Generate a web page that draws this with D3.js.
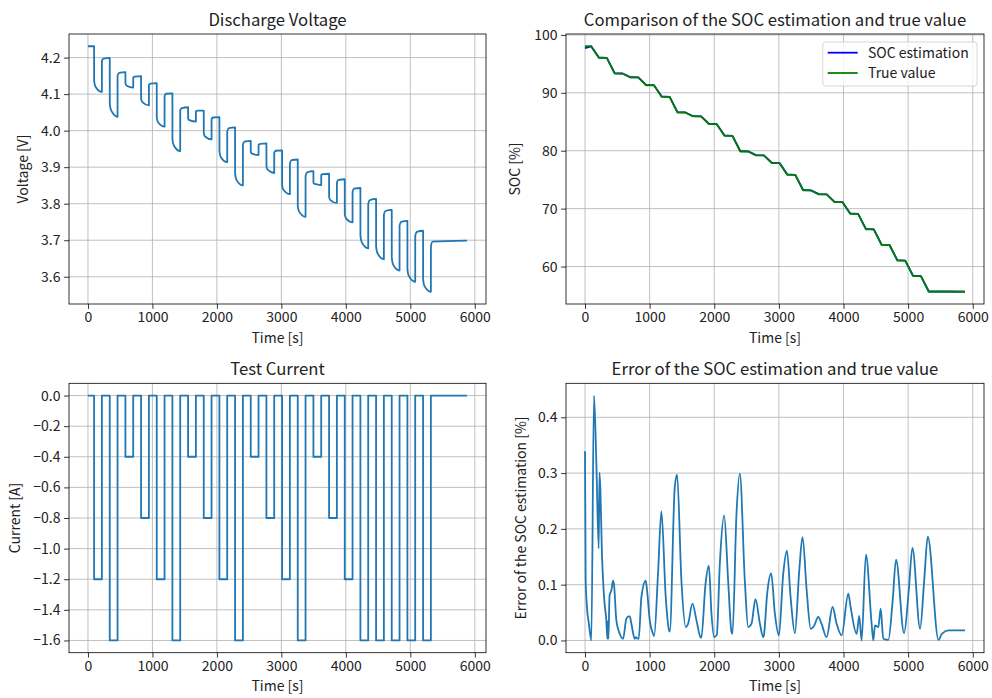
<!DOCTYPE html>
<html>
<head>
<meta charset="utf-8">
<script src="https://cdn.jsdelivr.net/npm/d3@7"></script>
<style>
  body { margin: 0; background: #fff; }
  svg text { font-family: "Noto Sans CJK JP", "Noto Sans", sans-serif; fill: #222; }
</style>
</head>
<body>
<script>
/* Test profile: pulse start / stop times [s] and pulse current [A] */
var tStart = [95, 338, 581, 824, 1067, 1310, 1553, 1796, 2039, 2282, 2525, 2768, 3011, 3254, 3497, 3740, 3983, 4226, 4469, 4712, 4955, 5198];
var tStop  = [216, 459, 702, 945, 1188, 1431, 1674, 1917, 2160, 2403, 2646, 2889, 3132, 3375, 3618, 3861, 4104, 4347, 4590, 4833, 5076, 5319];
var tLast = 5880;
var current = [-1.2, -1.6, -0.4, -0.8, -1.2, -1.6, -0.4, -0.8, -1.2, -1.6, -0.4, -0.8, -1.2, -1.6, -0.4, -0.8, -1.2, -1.6, -1.6, -1.6, -1.6, -1.6];

/* Terminal voltage read per pulse [V] */
var vRest    = [4.231, 4.199, 4.160, 4.149, 4.130, 4.102, 4.064, 4.055, 4.037, 4.009, 3.972, 3.965, 3.946, 3.921, 3.889, 3.882, 3.867, 3.843, 3.813, 3.783, 3.753, 3.726];
var vDrop    = [4.137, 4.074, 4.129, 4.087, 4.036, 3.977, 4.033, 3.993, 3.943, 3.883, 3.941, 3.902, 3.851, 3.794, 3.857, 3.818, 3.771, 3.713, 3.683, 3.652, 3.621, 3.592];
var vKnee    = [4.121, 4.056, 4.123, 4.078, 4.023, 3.960, 4.029, 3.984, 3.928, 3.866, 3.937, 3.893, 3.838, 3.779, 3.854, 3.810, 3.760, 3.695, 3.665, 3.634, 3.603, 3.575];
var vEnd     = [4.106, 4.038, 4.118, 4.069, 4.011, 3.944, 4.025, 3.976, 3.914, 3.850, 3.933, 3.884, 3.826, 3.764, 3.851, 3.802, 3.749, 3.678, 3.648, 3.617, 3.586, 3.559];
var vRise    = [4.191, 4.150, 4.146, 4.125, 4.095, 4.056, 4.053, 4.032, 3.998, 3.962, 3.961, 3.940, 3.910, 3.876, 3.879, 3.858, 3.833, 3.800, 3.770, 3.740, 3.712, 3.682];
var vRecover = [4.197, 4.158, 4.148, 4.129, 4.101, 4.062, 4.055, 4.036, 4.007, 3.970, 3.964, 3.945, 3.919, 3.886, 3.881, 3.865, 3.841, 3.810, 3.780, 3.750, 3.723, 3.696];
var vFinal = 3.699;

/* SOC [%]: true value and estimation at pulse start / stop */
var socFirst = 98.04;
var socAfter = [96.02, 93.33, 92.66, 91.31, 89.29, 86.60, 85.93, 84.58, 82.56, 79.87, 79.20, 77.85, 75.83, 73.14, 72.47, 71.12, 69.10, 66.41, 63.72, 61.03, 58.34, 55.65];
var estFirst = 97.70;
var estAtStart = [98.04, 96.03, 93.34, 92.66, 91.32, 89.30, 86.61, 85.93, 84.59, 82.57, 79.88, 79.20, 77.86, 75.84, 73.15, 72.47, 71.13, 69.11, 66.41, 63.72, 61.03, 58.34];
var estAtStop  = [96.10, 93.40, 92.69, 91.38, 89.37, 86.68, 85.96, 84.66, 82.64, 79.95, 79.25, 77.93, 75.91, 73.22, 72.50, 71.17, 69.16, 66.49, 63.77, 61.11, 58.42, 55.73];
var estLast = 55.67;

/* Error of the SOC estimation [%] */
var errTime = [0, 10, 30, 60, 98, 139, 176, 212, 224, 238, 260, 300, 330, 346, 356, 362, 380, 392, 408, 434, 449, 485, 537, 589, 640, 675, 692, 718, 769, 790, 805, 831,
  873, 940, 960, 1002, 1053, 1070, 1130, 1182, 1249, 1301, 1312, 1389, 1425, 1492, 1559, 1595, 1663, 1725, 1786, 1800, 1864, 1916, 1957, 1998, 2039, 2086, 2153, 2215, 2267, 2282,
  2344, 2396, 2473, 2525, 2576, 2638, 2707, 2757, 2768, 2819, 2881, 2938, 3000, 3067, 3124, 3181, 3248, 3315, 3366, 3430, 3492, 3540, 3609, 3660, 3738, 3831, 3893, 3971,
  4074, 4110, 4203, 4244, 4280, 4347, 4435, 4461, 4487, 4539, 4575, 4616, 4694, 4760, 4813, 4937, 5010, 5066, 5185, 5250, 5304, 5470, 5522, 5625, 5880];
var errValue = [0.339, 0.110, 0.060, 0.030, 0.000, 0.439, 0.317, 0.165, 0.301, 0.270, 0.165, 0.070, 0.036, 0.003, 0.035, 0.003, 0.080, 0.085, 0.090, 0.107, 0.100, 0.036, 0.012, 0.003, 0.039, 0.043, 0.043, 0.030, 0.003, 0.006, 0.004, 0.003,
  0.078, 0.107, 0.090, 0.036, 0.012, 0.008, 0.120, 0.232, 0.078, 0.018, 0.016, 0.275, 0.297, 0.107, 0.024, 0.030, 0.066, 0.036, 0.006, 0.005, 0.100, 0.134, 0.048, 0.006, 0.010, 0.137, 0.224, 0.107, 0.015, 0.012,
  0.227, 0.299, 0.107, 0.024, 0.030, 0.074, 0.030, 0.006, 0.009, 0.084, 0.120, 0.048, 0.009, 0.119, 0.161, 0.078, 0.013, 0.125, 0.185, 0.090, 0.021, 0.025, 0.042, 0.030, 0.006, 0.060, 0.030, 0.009,
  0.084, 0.060, 0.012, 0.044, 0.000, 0.154, 0.030, 0.000, 0.027, 0.024, 0.057, 0.003, 0.001, 0.070, 0.145, 0.013, 0.090, 0.166, 0.021, 0.110, 0.186, 0.001, 0.012, 0.018, 0.018];

var timeTicks = [0, 1000, 2000, 3000, 4000, 5000, 6000];
var voltTicks = [3.6, 3.7, 3.8, 3.9, 4.0, 4.1, 4.2];
var socTicks = [60, 70, 80, 90, 100];
var currTicks = [0.0, -0.2, -0.4, -0.6, -0.8, -1.0, -1.2, -1.4, -1.6];
var errTicks = [0.0, 0.1, 0.2, 0.3, 0.4];

/* Layout */
var width = 992, height = 698;
var lineBlue = "#1f77b4";
var lineWidth = 1.8;

var svg = d3.select("body").append("svg")
    .attr("width", width)
    .attr("height", height);

/* point lists built from the arrays above */
var voltPts = [[0, vRest[0]]];
var currPts = [[0, 0]];
var socPts = [[0, socFirst]];
var estPts = [[0, estFirst]];
for (var i = 0; i < tStart.length; i++) {
    var next = i + 1 < tStart.length ? tStart[i + 1] : tLast;
    var nextRest = i + 1 < vRest.length ? vRest[i + 1] : vFinal;
    voltPts.push([tStart[i], vRest[i]], [tStart[i] + 0.5, vDrop[i]], [tStart[i] + 20, vKnee[i]],
                 [tStop[i], vEnd[i]], [tStop[i] + 0.5, vRise[i]], [tStop[i] + 25, vRecover[i]], [next, nextRest]);
    currPts.push([tStart[i], 0], [tStart[i], current[i]], [tStop[i], current[i]], [tStop[i], 0]);
    socPts.push([tStart[i], i == 0 ? socFirst : socAfter[i - 1]], [tStop[i], socAfter[i]]);
    estPts.push([tStart[i], estAtStart[i]], [tStop[i], estAtStop[i]]);
}
currPts.push([tLast, 0]);
socPts.push([tLast, socAfter[socAfter.length - 1]]);
estPts.push([tLast, estLast]);
var errPts = errTime.map(function(t, k) { return [t, errValue[k]]; });

function padded(lo, hi) {
    var m = (hi - lo) * 0.05;
    return [lo - m, hi + m];
}

function panel(box, xDom, yDom, xT, yT, yFmt, title, xLabel, yLabel, yLabelX) {
    var x = d3.scaleLinear().domain(xDom).range([box.x0, box.x1]);
    var y = d3.scaleLinear().domain(yDom).range([box.y1, box.y0]);
    var g = svg.append("g");

    // grid
    g.selectAll("line.gx").data(xT).enter().append("line")
        .attr("x1", function(d) { return x(d); }).attr("x2", function(d) { return x(d); })
        .attr("y1", box.y0).attr("y2", box.y1)
        .attr("stroke", "#b0b0b0").attr("stroke-width", 0.8);
    g.selectAll("line.gy").data(yT).enter().append("line")
        .attr("y1", function(d) { return y(d); }).attr("y2", function(d) { return y(d); })
        .attr("x1", box.x0).attr("x2", box.x1)
        .attr("stroke", "#b0b0b0").attr("stroke-width", 0.8);

    var xa = g.append("g").attr("transform", "translate(0," + box.y1 + ")")
        .call(d3.axisBottom(x).tickValues(xT).tickFormat(d3.format("d")).tickSize(4.9).tickPadding(3.6));
    var ya = g.append("g").attr("transform", "translate(" + box.x0 + ",0)")
        .call(d3.axisLeft(y).tickValues(yT).tickFormat(yFmt).tickSize(4.9).tickPadding(3.6));
    [xa, ya].forEach(function(a) {
        a.select(".domain").remove();
        a.selectAll(".tick line").attr("stroke", "#000").attr("stroke-width", 0.8);
        a.selectAll(".tick text").attr("font-size", 14).attr("fill", "#222")
            .style("font-family", '"Noto Sans CJK JP", sans-serif');
    });

    svg.append("text")
        .attr("x", (box.x0 + box.x1) / 2).attr("y", box.y0 - 8.3)
        .attr("text-anchor", "middle").attr("font-size", 16.7)
        .text(title);
    svg.append("text")
        .attr("x", (box.x0 + box.x1) / 2).attr("y", box.y1 + 38.5)
        .attr("text-anchor", "middle").attr("font-size", 14)
        .text(xLabel);
    svg.append("text")
        .attr("transform", "translate(" + yLabelX + "," + (box.y0 + box.y1) / 2 + ") rotate(-90)")
        .attr("dy", "0.35em")
        .attr("text-anchor", "middle").attr("font-size", 14)
        .text(yLabel);

    return {g: g, x: x, y: y, box: box};
}

function frame(p) {
    p.g.append("rect")
        .attr("x", p.box.x0).attr("y", p.box.y0)
        .attr("width", p.box.x1 - p.box.x0).attr("height", p.box.y1 - p.box.y0)
        .attr("fill", "none").attr("stroke", "#000").attr("stroke-width", 0.8);
}

function plotLine(p, pts, color, curve) {
    p.g.append("path")
        .datum(pts)
        .attr("fill", "none")
        .attr("stroke", color)
        .attr("stroke-width", lineWidth)
        .attr("stroke-linejoin", "round")
        .attr("d", d3.line()
            .x(function(d) { return p.x(d[0]); })
            .y(function(d) { return p.y(d[1]); })
            .curve(curve || d3.curveLinear));
}

var xDom = padded(0, tLast);

/* Discharge Voltage */
var pV = panel({x0: 69, x1: 486, y0: 34, y1: 304}, xDom,
    padded(d3.min(voltPts, function(d) { return d[1]; }), d3.max(voltPts, function(d) { return d[1]; })),
    timeTicks, voltTicks, d3.format(".1f"), "Discharge Voltage", "Time [s]", "Voltage [V]", 23);
plotLine(pV, voltPts, lineBlue, d3.curveMonotoneX);
frame(pV);

/* SOC comparison */
var allSoc = socPts.concat(estPts);
var pS = panel({x0: 566, x1: 984, y0: 34, y1: 304}, xDom,
    padded(d3.min(allSoc, function(d) { return d[1]; }), d3.max(allSoc, function(d) { return d[1]; })),
    timeTicks, socTicks, d3.format("d"), "Comparison of the SOC estimation and true value", "Time [s]", "SOC [%]", 515.5);
plotLine(pS, estPts, "#0000ff");
plotLine(pS, socPts, "#008000");
frame(pS);

var legend = svg.append("g");
legend.append("rect")
    .attr("x", 822.7).attr("y", 42).attr("width", 154.3).attr("height", 44).attr("rx", 3)
    .attr("fill", "#fff").attr("fill-opacity", 0.8)
    .attr("stroke", "#cccccc").attr("stroke-width", 0.8);
[["SOC estimation", "#0000ff", 52.7], ["True value", "#008000", 73]].forEach(function(item) {
    legend.append("line")
        .attr("x1", 827.7).attr("x2", 857.7).attr("y1", item[2]).attr("y2", item[2])
        .attr("stroke", item[1]).attr("stroke-width", lineWidth);
    legend.append("text")
        .attr("x", 868).attr("y", item[2]).attr("dy", "0.35em")
        .attr("font-size", 14)
        .text(item[0]);
});

/* Test Current */
var pC = panel({x0: 69, x1: 486, y0: 383.3, y1: 652.7}, xDom,
    padded(d3.min(current), 0),
    timeTicks, currTicks, d3.format(".1f"), "Test Current", "Time [s]", "Current [A]", 15);
plotLine(pC, currPts, lineBlue);
frame(pC);

/* Error */
var pE = panel({x0: 566, x1: 984, y0: 383.3, y1: 652.7}, xDom,
    padded(d3.min(errValue), d3.max(errValue)),
    timeTicks, errTicks, d3.format(".1f"), "Error of the SOC estimation and true value", "Time [s]", "Error of the SOC estimation [%]", 521);
plotLine(pE, errPts, lineBlue, d3.curveMonotoneX);
frame(pE);
</script>
</body>
</html>
